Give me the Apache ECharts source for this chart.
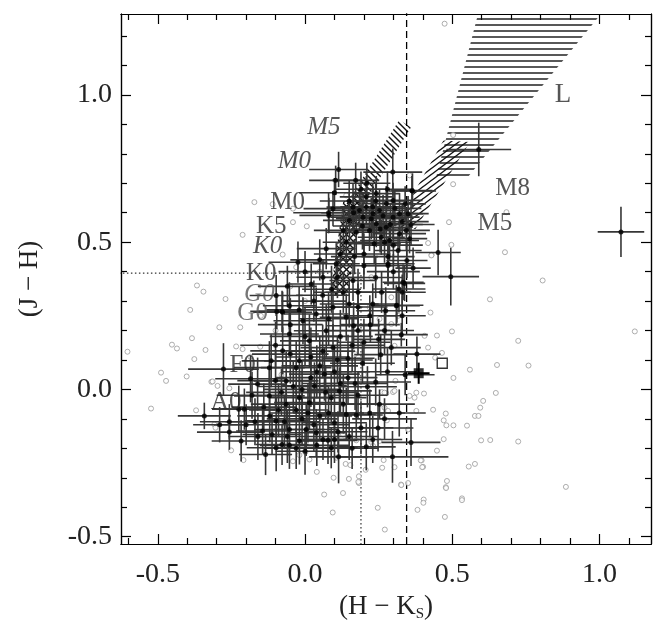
<!DOCTYPE html>
<html><head><meta charset="utf-8">
<script src="https://cdn.jsdelivr.net/npm/echarts@6/dist/echarts.min.js"></script>
<style>html,body{margin:0;padding:0;background:#fff}#c{width:655px;height:629px}</style>
</head><body><div id="c"></div>
<script>
// ---------- DATA ----------
// stars with error bars: [H-Ks, J-H, err(H-Ks), err(J-H)]
const errStars = [
[1.073,0.535,0.079,0.085],[0.590,0.815,0.11,0.091],[0.452,0.465,0.077,0.077],[0.495,0.383,0.096,0.098],
[0.363,0.675,0.07,0.05],[0.114,0.747,0.10,0.06],[0.298,0.738,0.10,0.08],[0.104,0.710,0.09,0.05],
[0.172,0.710,0.08,0.06],[0.100,0.668,0.12,0.05],[0.365,0.674,0.08,0.06],[0.080,0.600,0.12,0.07],
[0.095,0.614,0.10,0.06],[0.163,0.619,0.09,0.08],[0.185,0.608,0.10,0.07],[0.208,0.619,0.08,0.06],
[0.231,0.597,0.09,0.08],[0.253,0.608,0.10,0.07],[0.276,0.631,0.08,0.06],[0.299,0.585,0.09,0.07],
[0.242,0.563,0.10,0.08],[0.276,0.551,0.09,0.06],[0.321,0.597,0.08,0.07],[0.350,0.597,0.07,0.06],
[0.197,0.585,0.11,0.08],[0.219,0.540,0.09,0.07],[0.259,0.517,0.08,0.06],[0.287,0.506,0.10,0.07],
[0.321,0.529,0.09,0.06],[0.344,0.540,0.08,0.07],[0.151,0.574,0.09,0.07],[0.174,0.534,0.10,0.08],
[0.242,0.665,0.08,0.06],[0.208,0.654,0.09,0.07],[0.299,0.642,0.10,0.06],[0.355,0.512,0.06,0.05],
[0.316,0.472,0.08,0.06],[0.282,0.451,0.09,0.07],[0.346,0.438,0.07,0.06],[0.367,0.412,0.06,0.07],
[0.282,0.421,0.08,0.07],[0.072,0.478,0.10,0.07],[0.168,0.451,0.08,0.06],[0.319,0.341,0.09,0.08],
[0.338,0.360,0.07,0.06],[0.310,0.284,0.08,0.07],[0.274,0.267,0.10,0.08],[0.163,0.370,0.08,0.07],
[0.081,0.591,0.10,0.06],[-0.024,0.432,0.10,0.07],[0.333,0.364,0.07,0.06],[0.282,0.427,0.09,0.06],
[-0.098,0.319,0.09,0.07],[-0.076,0.262,0.10,0.07],[-0.053,0.284,0.09,0.08],[0.021,0.358,0.08,0.07],
[0.061,0.381,0.09,0.06],[0.106,0.427,0.08,0.07],[-0.096,0.265,0.09,0.06],[-0.078,0.265,0.08,0.07],
[0.312,0.286,0.09,0.06],[0.327,0.186,0.09,0.04],[0.293,0.142,0.10,0.06],[0.257,0.118,0.09,0.07],
[0.222,0.220,0.10,0.06],[0.165,0.216,0.09,0.08],[-0.053,0.188,0.10,0.07],[0.195,0.089,0.11,0.07],
[0.240,0.025,0.12,0.08],[0.212,0.009,0.10,0.07],[0.253,-0.050,0.12,0.05],[0.248,-0.131,0.12,0.08],
[0.208,-0.195,0.10,0.08],[0.297,-0.229,0.19,0.088],[0.114,-0.229,0.10,0.09],[0.089,-0.198,0.09,0.07],
[0.078,-0.173,0.10,0.08],[-0.277,0.069,0.12,0.088],[-0.342,-0.090,0.09,0.045],[-0.257,-0.145,0.11,0.06],
[-0.217,-0.175,0.10,0.07],[-0.134,-0.221,0.09,0.07],[-0.185,0.036,0.12,0.08],[-0.161,0.018,0.10,0.09],
[-0.206,-0.067,0.11,0.07],[-0.225,-0.067,0.09,0.08],[-0.257,-0.110,0.10,0.06],[-0.121,0.074,0.12,0.09],
[-0.053,-0.190,0.10,0.08],[-0.078,-0.187,0.09,0.07],[-0.098,-0.198,0.10,0.08],[-0.019,-0.175,0.11,0.08],
[0.140,-0.085,0.10,0.09],[0.174,-0.087,0.09,0.08],[0.112,-0.144,0.10,0.07],[0.100,-0.113,0.11,0.09],
[0.146,0.106,0.09,0.08],[0.066,0.052,0.12,0.09],[0.032,0.012,0.11,0.08],[0.015,-0.045,0.12,0.09],
[-0.019,-0.028,0.10,0.08],[-0.064,-0.050,0.12,0.09],[-0.098,-0.107,0.11,0.08],[-0.112,-0.153,0.10,0.07],
[-0.144,-0.141,0.09,0.08],[0.004,-0.136,0.11,0.09],[0.038,-0.147,0.10,0.08],[0.061,-0.170,0.09,0.07],
[-0.053,-0.136,0.12,0.09],[0.095,0.142,0.11,0.08],[0.015,0.165,0.10,0.09],[-0.076,0.131,0.11,0.08],
[-0.115,0.097,0.10,0.09],[0.089,-0.028,0.12,0.09],[0.117,-0.005,0.11,0.08],[0.146,0.040,0.10,0.09],
[-0.121,-0.022,0.12,0.09],[-0.064,0.029,0.11,0.10],[-0.030,0.074,0.12,0.09],[-0.007,0.233,0.10,0.08],
[0.038,0.256,0.11,0.09],[0.095,0.279,0.10,0.08],[0.140,0.245,0.09,0.08],[0.072,0.199,0.11,0.09],
[-0.019,0.097,0.12,0.10],[-0.040,0.010,0.12,0.09],[0.050,-0.090,0.11,0.08],[-0.090,-0.070,0.10,0.09],
[0.020,0.110,0.12,0.10],[0.120,0.180,0.11,0.09],[0.060,0.320,0.09,0.08],[0.130,0.330,0.10,0.07],
[-0.010,-0.100,0.12,0.09],[-0.140,-0.060,0.11,0.08],[0.180,-0.020,0.10,0.08],[0.200,0.160,0.09,0.08],
[0.040,0.060,0.12,0.09],[-0.030,-0.200,0.11,0.07],[0.100,0.060,0.12,0.09],[-0.170,-0.110,0.10,0.08],
[0.150,-0.160,0.10,0.08],[0.230,0.290,0.09,0.07],[0.180,0.280,0.10,0.08],[0.110,0.380,0.09,0.07],
[0.200,0.460,0.09,0.07],[0.140,0.500,0.08,0.07],
[0.150,0.640,0.10,0.07],[0.190,0.680,0.09,0.06],[0.230,0.620,0.11,0.08],[0.265,0.590,0.10,0.07],
[0.305,0.615,0.09,0.06],[0.225,0.580,0.12,0.07],[0.255,0.545,0.10,0.08],[0.290,0.560,0.11,0.07],
[0.330,0.570,0.09,0.06],[0.195,0.555,0.10,0.08],[0.165,0.600,0.11,0.07],[0.240,0.640,0.10,0.06],
[0.270,0.500,0.09,0.07],[0.300,0.490,0.10,0.06],[0.235,0.495,0.09,0.07],[0.130,0.540,0.10,0.08],
[0.210,0.700,0.08,0.07],[0.280,0.680,0.09,0.06],[0.340,0.630,0.07,0.06],[0.360,0.560,0.08,0.07],
[0.050,0.440,0.10,0.07],[0.120,0.460,0.09,0.07],[0.200,0.420,0.10,0.08],[0.240,0.380,0.09,0.07],
[0.180,0.330,0.11,0.08],[0.260,0.330,0.10,0.07],[0.300,0.400,0.09,0.06],[0.090,0.340,0.10,0.08],
[0.030,0.300,0.11,0.07],[0.150,0.290,0.10,0.08],[0.220,0.250,0.09,0.07],[0.270,0.200,0.10,0.08],
[0.000,0.400,0.09,0.07],[-0.060,0.350,0.10,0.07],[0.330,0.250,0.08,0.07],
[-0.180,-0.020,0.12,0.08],[-0.100,0.150,0.12,0.08],[-0.050,0.220,0.11,0.09],
[0.000,0.180,0.12,0.10],[0.060,0.130,0.11,0.09],[0.110,0.100,0.12,0.08],[0.170,0.020,0.11,0.09],
[0.220,-0.080,0.12,0.08],[0.190,-0.130,0.11,0.09],[0.130,-0.050,0.12,0.10],[0.070,-0.010,0.11,0.09],
[0.020,0.040,0.12,0.10],[-0.030,-0.070,0.11,0.09],[-0.080,-0.010,0.12,0.08],[-0.120,-0.090,0.11,0.09],
[-0.160,-0.160,0.10,0.08],[-0.200,-0.120,0.11,0.07],
[-0.060,-0.160,0.11,0.09],[0.000,-0.210,0.10,0.08],[0.040,-0.190,0.11,0.07],[0.100,-0.170,0.10,0.08],
[0.160,-0.200,0.09,0.07],[0.230,-0.170,0.10,0.08],[0.270,-0.100,0.11,0.07],[0.280,0.060,0.10,0.08],
[0.250,0.170,0.09,0.07],[0.180,0.200,0.11,0.08],[0.080,0.240,0.10,0.09],[-0.020,0.270,0.11,0.08],
[-0.290,-0.120,0.09,0.06],
[-0.050,0.120,0.13,0.10],[0.050,0.080,0.13,0.10],[0.010,-0.080,0.13,0.10],[-0.100,0.030,0.13,0.10],
[0.120,0.020,0.13,0.10],[0.080,-0.080,0.12,0.09],[-0.010,0.000,0.13,0.10],[0.030,-0.120,0.12,0.09],
[-0.070,-0.110,0.12,0.09],[0.160,0.150,0.11,0.09],
[0.340,0.050,0.10,0.07],[0.320,-0.080,0.09,0.08],[0.380,0.120,0.08,0.06],[0.360,-0.180,0.10,0.08],
[0.330,0.330,0.08,0.06]
];
// field stars (grey open circles): [H-Ks, J-H]
const fieldStars = [
[0.489,0.568],[0.684,0.602],[0.418,0.497],[0.497,0.491],[0.430,0.457],[0.679,0.466],[0.807,0.370],[0.628,0.306],
[0.426,0.261],[0.499,0.197],[0.448,0.183],[0.406,0.182],[0.724,0.165],[0.418,0.142],[0.465,0.124],[0.442,0.108],
[1.120,0.197],[0.652,0.083],[0.759,0.081],[0.560,0.067],[0.504,0.039],[0.404,-0.014],[0.648,-0.012],[0.605,-0.039],
[0.435,-0.069],[0.595,-0.062],[0.478,-0.082],[0.577,-0.090],[0.589,-0.090],[0.471,-0.105],[0.480,-0.122],[0.504,-0.122],
[0.550,-0.123],[0.471,-0.169],[0.598,-0.173],[0.629,-0.172],[0.724,-0.177],[0.448,-0.208],[0.396,-0.241],[0.401,-0.263],
[0.556,-0.262],[0.577,-0.253],[0.482,-0.311],[0.478,-0.332],[0.886,-0.331],[0.533,-0.370],[0.403,-0.374],
[0.307,0.029],[0.261,-0.009],[0.276,-0.013],[0.299,-0.009],[0.378,-0.011],[0.372,-0.028],[0.378,-0.073],[0.270,-0.062],
[0.282,-0.073],[0.278,-0.105],[0.350,-0.136],
[0.474,1.242],[0.503,0.864],[0.503,0.697],[0.355,0.727],[0.429,0.455],[0.225,0.381],[0.293,0.313],[0.140,0.659],
[-0.172,0.636],[-0.212,0.525],[-0.041,0.568],[0.006,0.554],[-0.076,0.458],[-0.110,0.629],[-0.041,0.614],[-0.030,0.415],
[-0.367,0.353],[-0.345,0.332],[-0.270,0.307],[-0.390,0.270],[-0.291,0.211],[-0.220,0.211],[-0.384,0.174],[-0.452,0.152],
[-0.435,0.139],[-0.338,0.134],[-0.234,0.146],[-0.212,0.137],[-0.376,0.103],[-0.489,0.057],[-0.472,0.029],[-0.402,0.044],
[-0.318,0.026],[-0.297,0.012],[-0.257,0.004],[-0.523,-0.065],[-0.370,-0.071],[-0.308,-0.119],[-0.304,-0.130],[-0.251,-0.207],
[-0.209,-0.240],[-0.603,0.128],[-0.152,0.145],[-0.186,0.111],[-0.314,0.027],
[-0.041,-0.244],[0.001,-0.213],[0.040,-0.280],[0.097,-0.300],[0.149,-0.304],[0.138,-0.253],[0.154,-0.257],[0.206,-0.273],
[0.225,-0.178],[0.106,-0.232],[-0.019,-0.223],[0.015,-0.238],[0.183,-0.318],[0.183,-0.295],[0.262,-0.266],[0.267,-0.240],
[0.326,-0.323],[0.350,-0.318],[0.393,-0.241],[0.398,-0.264],[0.270,-0.011],[0.304,-0.005],[0.355,-0.022],[0.225,-0.170],
[0.253,-0.175],[0.231,-0.192],[0.174,-0.173],[0.304,-0.264],[0.129,-0.153],[0.304,0.148],[0.219,0.279],[0.253,0.239],
[0.293,0.222],[0.316,0.250],
[0.065,-0.357],[0.129,-0.352],[0.094,-0.418],[0.247,-0.402],[0.271,-0.476],[0.327,-0.325],[0.382,-0.409],[0.402,-0.385],
[0.475,-0.433],[0.479,-0.335],[0.533,-0.376],[0.181,-0.314],
[-0.100,0.200],[-0.050,0.350],[0.000,0.300],[-0.150,0.250],[0.050,0.400],[-0.080,0.050],[0.170,0.120],[0.200,0.050]
];
// special objects
const filledSquare = [[0.386,0.055,0.037,0.036]];
const openSquare = [[0.466,0.089]];
// spectral-type labels
const specNames  = ['L','M8','M5','M5','M0','M0','K5','K0','K0','G0','G0','F0','A0'];
const specX      = [0.876,0.705,0.645,0.064,-0.036,-0.059,-0.115,-0.127,-0.149,-0.155,-0.178,-0.212,-0.268];
const specY      = [1.000,0.684,0.565,0.890,0.773,0.636,0.554,0.487,0.395,0.324,0.258,0.080,-0.045];
const specItalic = [false,false,false,true,true,false,false,true,false,true,false,false,false];
// hatched loci (polygon vertices in H-Ks, J-H)
const lDwarfLocus   = [[0.445,0.72],[0.552,0.72],[0.994,1.261],[0.584,1.261]];
const mDwarfLocus   = [[0.300,0.545],[0.375,0.545],[0.560,0.840],[0.470,0.845]];
const giantLocus    = [[0.140,0.630],[0.200,0.630],[0.360,0.890],[0.320,0.915]];
const giantLowLocus = [[0.085,0.320],[0.145,0.320],[0.195,0.640],[0.130,0.640]];
// reference lines
const dashedLine = [[0.345,-0.6],[0.345,1.3]];
const dottedLine = [[-0.7,0.395],[0.19,0.395],[0.19,-0.6]];
// axis ticks
const xMajor = [-0.5,0,0.5,1.0];
const xMinor = [-0.6,-0.4,-0.3,-0.2,-0.1,0.1,0.2,0.3,0.4,0.6,0.7,0.8,0.9,1.1];
const yMajor = [-0.5,0,0.5,1.0];
const yMinor = [-0.4,-0.3,-0.2,-0.1,0.1,0.2,0.3,0.4,0.6,0.7,0.8,0.9,1.1,1.2];

// ---------- CHART ----------
const X_MIN=-0.625, X_MAX=1.175, Y_MIN=-0.525, Y_MAX=1.275;
const FONT = 'Liberation Serif';

function hatch(kind, w, h){
  const cv=document.createElement('canvas'); cv.width=w; cv.height=h;
  const g=cv.getContext('2d'); g.strokeStyle='#111'; g.lineWidth=1.4;
  const seg=(a,b,c,d)=>{g.beginPath();g.moveTo(a,b);g.lineTo(c,d);g.stroke();};
  const dx=w/h;
  if(kind==='h'){ seg(0,1,w,1); }
  if(kind==='/'||kind==='x'){ seg(-dx,h+1,w+dx,-1); seg(-dx,1,dx,-1); seg(w-dx,h+1,w+dx,h-1); }
  if(kind==='\\'||kind==='x'){ seg(-dx,-1,w+dx,h+1); seg(w-dx,-1,w+dx,1); seg(-dx,h-1,dx,h+1); }
  return {image:cv, repeat:'repeat'};
}

function axis(dim, position, ticks, len, withLabels){
  const a = {
    type:'value', position, min: dim==='x'?X_MIN:Y_MIN, max: dim==='x'?X_MAX:Y_MAX,
    axisLine:{show:true,onZero:false,lineStyle:{color:'#000',width:1.2}},
    axisTick:{show:true,inside:true,length:len,customValues:ticks,lineStyle:{color:'#000',width:1.2}},
    axisLabel:{show:false}, splitLine:{show:false}, axisPointer:{show:false}
  };
  if(withLabels){
    a.axisLabel = {show:true, customValues:ticks, formatter:v=>v.toFixed(1),
      fontFamily:FONT, fontSize:28, color:'#222', margin: dim==='x'?17:9};
  }
  return a;
}
const xAxes = [axis('x','bottom',xMajor,10,true), axis('x','bottom',xMinor,6,false),
               axis('x','top',xMajor,10,false), axis('x','top',xMinor,6,false)];
const yAxes = [axis('y','left',yMajor,10,true), axis('y','left',yMinor,6,false),
               axis('y','right',yMajor,10,false), axis('y','right',yMinor,6,false)];
xAxes[0].name='(H − K{s|S})'; xAxes[0].nameLocation='middle'; xAxes[0].nameGap=48;
xAxes[0].nameTextStyle={fontFamily:FONT,fontSize:27,color:'#222',
  rich:{s:{fontFamily:FONT,fontSize:15,color:'#222',verticalAlign:'bottom',padding:[13,0,0,0]}}};
yAxes[0].name='(J − H)'; yAxes[0].nameLocation='middle'; yAxes[0].nameGap=78;
yAxes[0].nameTextStyle={fontFamily:FONT,fontSize:27,color:'#222'};

function polySeries(verts, fill){
  return {type:'custom', xAxisIndex:0, yAxisIndex:0, z:1, silent:true, clip:true, data:verts,
    renderItem:(p,api)=> p.dataIndex!==0 ? null : {type:'polygon',
      shape:{points:verts.map(v=>api.coord(v))}, style:{fill:fill, stroke:null}}};
}
function errSeries(data, color, width, z){
  return {type:'custom', xAxisIndex:0, yAxisIndex:0, z, silent:true, clip:true, data,
    renderItem:(p,api)=>{
      const x=api.value(0), y=api.value(1), ex=api.value(2), ey=api.value(3);
      const l=api.coord([x-ex,y]), r=api.coord([x+ex,y]), t=api.coord([x,y+ey]), b=api.coord([x,y-ey]);
      return {type:'group', children:[
        {type:'line', shape:{x1:l[0],y1:l[1],x2:r[0],y2:r[1]}, style:{stroke:color,lineWidth:width}},
        {type:'line', shape:{x1:b[0],y1:b[1],x2:t[0],y2:t[1]}, style:{stroke:color,lineWidth:width}}
      ]};
    }};
}

const labelData = specNames.map((n,i)=>({name:n, value:[specX[i],specY[i]],
  label:{fontStyle: specItalic[i]?'italic':'normal', color: n==='G0'?'#555':'#2a2a2a',
         fontSize: n==='L'?27:25}}));

const chart = echarts.init(document.getElementById('c'), null, {renderer:'canvas'});
chart.setOption({
  animation:false, backgroundColor:'#fff',
  grid:{left:121, right:4, top:14, bottom:85, outerBoundsMode:'none', containLabel:false},
  xAxis:xAxes, yAxis:yAxes,
  series:[
    polySeries(lDwarfLocus, hatch('h',6,6)),
    polySeries(mDwarfLocus, hatch('/',8,6)),
    polySeries(giantLocus, hatch('\\',6,6)),
    polySeries(giantLowLocus, hatch('x',7,7)),
    {type:'line', data:dashedLine, symbol:'none', silent:true, z:2,
      lineStyle:{color:'#000',width:1.3,type:[7,4]}},
    {type:'line', data:dottedLine, symbol:'none', silent:true, z:2,
      lineStyle:{color:'#000',width:1,type:[1.5,2.5]}},
    {type:'scatter', data:fieldStars, symbol:'circle', symbolSize:5, silent:true, z:3,
      itemStyle:{color:'#fff',borderColor:'#9a9a9a',borderWidth:1}},
    errSeries(errStars,'#363636',1.6,4),
    {type:'scatter', data:errStars.map(d=>[d[0],d[1]]), symbol:'circle', symbolSize:5, silent:true, z:5,
      itemStyle:{color:'#000'}},
    errSeries(filledSquare,'#000',2,5),
    {type:'scatter', data:filledSquare.map(d=>[d[0],d[1]]), symbol:'rect', symbolSize:10, silent:true, z:6,
      itemStyle:{color:'#000'}},
    {type:'scatter', data:openSquare, symbol:'rect', symbolSize:10, silent:true, z:6,
      itemStyle:{color:'#fff',borderColor:'#000',borderWidth:1.4}},
    {type:'scatter', data:labelData, symbolSize:1, silent:true, z:10,
      itemStyle:{color:'rgba(0,0,0,0)'},
      label:{show:true, position:'inside', formatter:'{b}', fontFamily:FONT, fontSize:25}}
  ]
});
</script></body></html>
